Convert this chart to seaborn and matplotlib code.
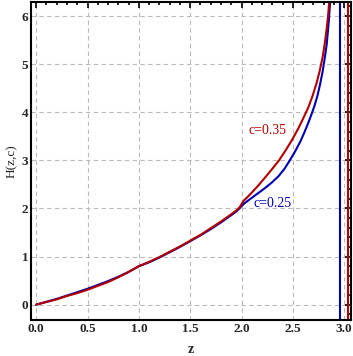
import numpy as np
import pandas as pd
import matplotlib
matplotlib.use("Agg")
import matplotlib.pyplot as plt
from matplotlib.ticker import MultipleLocator
import seaborn as sns

sns.set_style("white")
plt.rcParams['font.family'] = ['Liberation Serif', 'DejaVu Serif']

# values
z_025 = [0.0, 0.1, 0.2, 0.3, 0.4, 0.5, 0.6, 0.7, 0.8, 0.9, 1.0, 1.1, 1.2, 1.3, 1.4, 1.5,
         1.6, 1.7, 1.8, 1.9, 1.95, 1.98, 2.0, 2.03, 2.08, 2.15, 2.22, 2.29, 2.36, 2.42,
         2.47, 2.52, 2.57, 2.61, 2.65, 2.68, 2.71, 2.74, 2.765, 2.79, 2.81, 2.83, 2.85,
         2.865]
H_025 = [0.0, 0.06, 0.12, 0.19, 0.26, 0.33, 0.41, 0.49, 0.58, 0.68, 0.80, 0.88, 0.98, 1.09,
         1.20, 1.32, 1.44, 1.57, 1.71, 1.86, 1.94, 2.0, 2.05, 2.11, 2.19, 2.30, 2.41, 2.53,
         2.67, 2.83, 3.0, 3.18, 3.38, 3.57, 3.78, 3.95, 4.13, 4.35, 4.58, 4.85, 5.12, 5.42,
         5.9, 6.35]

z_035 = [0.0, 0.1, 0.2, 0.3, 0.4, 0.5, 0.6, 0.7, 0.8, 0.9, 1.0, 1.1, 1.2, 1.3, 1.4, 1.5,
         1.6, 1.7, 1.8, 1.9, 1.95, 1.98, 2.0, 2.02, 2.05, 2.1, 2.16, 2.22, 2.29, 2.365,
         2.43, 2.49, 2.55, 2.60, 2.65, 2.69, 2.73, 2.76, 2.79, 2.81, 2.83, 2.845, 2.855]
H_035 = [0.0, 0.055, 0.11, 0.18, 0.24, 0.31, 0.39, 0.47, 0.57, 0.68, 0.80, 0.89, 0.99, 1.10,
         1.21, 1.33, 1.45, 1.59, 1.73, 1.88, 1.96, 2.02, 2.09, 2.16, 2.22, 2.33, 2.47, 2.62,
         2.80, 3.0, 3.21, 3.42, 3.65, 3.87, 4.1, 4.33, 4.6, 4.85, 5.15, 5.42, 5.75, 6.05,
         6.35]

asymptotes = [2.96, 3.04]
labels = ["c=0.25", "c=0.35"]
label_pos = [(2.12, 2.11), (2.07, 3.62)]
blue = "#0000b0"
red = "#b00000"

fig = plt.figure(figsize=(3.53, 3.56), dpi=100)
ax = fig.add_axes([0.088, 0.101, 0.906, 0.893])

sns.lineplot(x=z_025, y=H_025, sort=False, color=blue, lw=1.5, ax=ax)
sns.lineplot(x=z_035, y=H_035, sort=False, color=red, lw=1.5, ax=ax)
ax.axvline(asymptotes[0], color=blue, lw=1.5)
ax.axvline(asymptotes[1], color=red, lw=1.5)

ax.text(*label_pos[0], labels[0], color=blue, fontsize=10, va="center")
ax.text(*label_pos[1], labels[1], color=red, fontsize=10, va="center")

ax.set_xlim(-0.05, 3.065)
ax.set_ylim(-0.32, 6.29)
ax.xaxis.set_major_locator(MultipleLocator(0.5))
ax.xaxis.set_minor_locator(MultipleLocator(0.1))
ax.yaxis.set_major_locator(MultipleLocator(1))
ax.yaxis.set_minor_locator(MultipleLocator(0.2))
ax.set_xticklabels([f"{v:.1f}" for v in ax.get_xticks()])
ax.grid(True, which="major", color="#bbbbbb", ls=(0, (4, 3)), lw=0.8)
ax.tick_params(which="both", direction="in", top=True, right=True, color="black",
               width=1.2, labelsize=9.5, pad=2)
ax.tick_params(which="major", length=4)
ax.tick_params(which="minor", length=2.5)
for lab in ax.get_xticklabels() + ax.get_yticklabels():
    lab.set_fontweight("bold")
for s in ax.spines.values():
    s.set_color("black")
    s.set_linewidth(1.5)

ax.set_xlabel("z", fontsize=10, fontweight="bold", labelpad=6)
ax.set_ylabel("H(z,c)", fontsize=9.5, labelpad=3)

plt.savefig("out.png", dpi=100)
